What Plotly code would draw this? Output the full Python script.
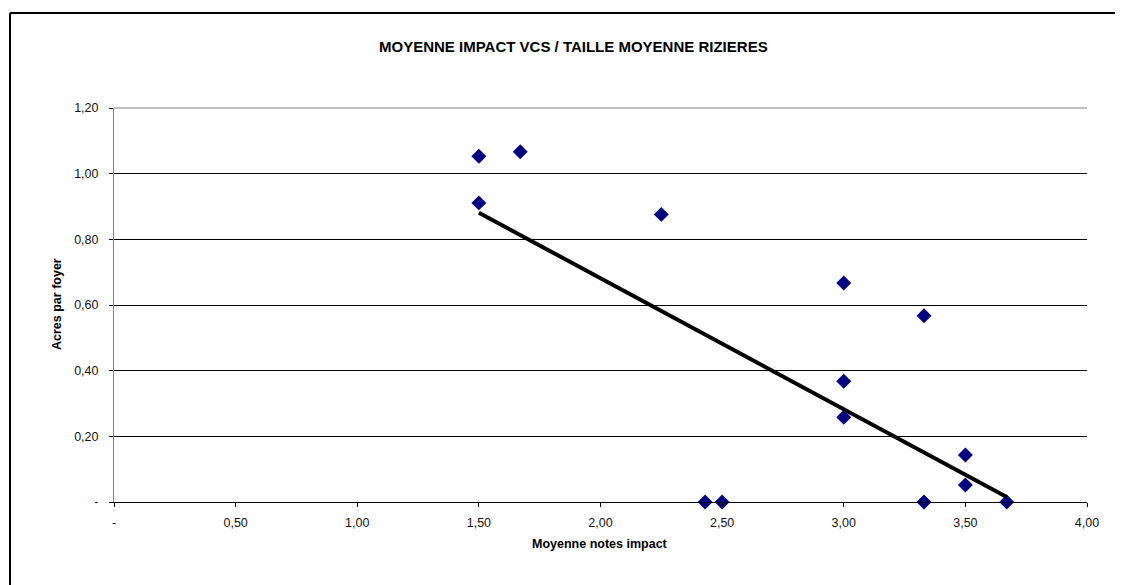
import plotly.graph_objects as go

# Data
impact_x = [1.50, 1.67, 1.50, 2.25, 3.00, 3.33, 3.00, 3.00, 3.50, 3.50, 2.43, 2.50, 3.33, 3.67]
acres_y = [1.053, 1.067, 0.911, 0.876, 0.667, 0.567, 0.368, 0.258, 0.143, 0.052, 0.0, 0.0, 0.0, 0.0]

trend_x = [1.50, 3.67]
trend_y = [0.881, 0.015]

x_tickvals = [0, 0.5, 1.0, 1.5, 2.0, 2.5, 3.0, 3.5, 4.0]
x_ticktext = ["-", "0,50", "1,00", "1,50", "2,00", "2,50", "3,00", "3,50", "4,00"]
y_tickvals = [0, 0.2, 0.4, 0.6, 0.8, 1.0, 1.2]
y_ticktext = ["-", "0,20", "0,40", "0,60", "0,80", "1,00", "1,20"]

title_text = "MOYENNE IMPACT VCS / TAILLE MOYENNE RIZIERES"
x_title = "Moyenne notes impact"
y_title = "Acres par foyer"

OFF = 8  # page body offset
W, H = 1115, 577
L, R, T, B = 106, 36, 100, 83
pw, ph = W - L - R, H - T - B

def sx(px):
    return (px - OFF - L) / pw

def sy(py):
    return (H - B - (py - OFF)) / ph

FONT = "Liberation Sans, Arial, sans-serif"

fig = go.Figure()
fig.add_trace(go.Scatter(
    x=impact_x, y=acres_y, mode="markers",
    marker=dict(symbol="diamond", size=11.5, color="#000080", line=dict(width=0)),
    cliponaxis=False, showlegend=False,
))
fig.add_trace(go.Scatter(
    x=trend_x, y=trend_y, mode="lines",
    line=dict(color="black", width=4),
    cliponaxis=False, showlegend=False,
))

fig.update_layout(
    width=W, height=H,
    margin=dict(l=L, r=R, t=T, b=B, pad=0),
    paper_bgcolor="white", plot_bgcolor="white",
    font=dict(family=FONT, size=12.5, color="black"),
    showlegend=False,
    xaxis=dict(
        range=[0, 4], tickvals=x_tickvals, ticktext=x_ticktext,
        showgrid=False, zeroline=False,
        showline=True, linecolor="black", linewidth=1,
        ticks="outside", ticklen=4, tickcolor="black", tickwidth=1,
        tickfont=dict(family=FONT, size=12.5, color="#111111"),
        ticklabelstandoff=5,
    ),
    yaxis=dict(
        range=[0, 1.2], tickvals=y_tickvals, ticktext=y_ticktext,
        showgrid=True, gridcolor="black", gridwidth=1,
        zeroline=False,
        showline=True, linecolor="#808080", linewidth=1,
        ticks="outside", ticklen=4, tickcolor="black", tickwidth=1,
        tickfont=dict(family=FONT, size=12.5, color="#111111"),
        ticklabelstandoff=8,
    ),
    annotations=[
        dict(text="<b>" + title_text + "</b>", xref="paper", yref="paper",
             x=sx(573), y=sy(47), xanchor="center", yanchor="middle",
             showarrow=False, font=dict(family=FONT, size=15, color="black")),
        dict(text="<b>" + x_title + "</b>", xref="paper", yref="paper",
             x=sx(600), y=sy(544), xanchor="center", yanchor="middle",
             showarrow=False, font=dict(family=FONT, size=12.5, color="black")),
        dict(text="<b>" + y_title + "</b>", xref="paper", yref="paper",
             x=sx(57), y=sy(304), xanchor="center", yanchor="middle",
             textangle=-90, showarrow=False, font=dict(family=FONT, size=12.5, color="black")),
    ],
    shapes=[
        dict(type="line", xref="paper", yref="paper",
             x0=sx(10), x1=sx(1140),
             y0=sy(13), y1=sy(13),
             line=dict(color="black", width=2)),
        dict(type="line", xref="paper", yref="paper",
             x0=sx(10), x1=sx(10),
             y0=sy(13), y1=sy(600),
             line=dict(color="black", width=2)),
        dict(type="line", xref="paper", yref="paper",
             x0=0, x1=1, y0=1, y1=1,
             line=dict(color="#808080", width=1)),
    ],
)

fig.write_html(
    "out.html",
    post_script="document.documentElement.style.overflow='hidden';document.body.style.overflow='hidden';",
)
